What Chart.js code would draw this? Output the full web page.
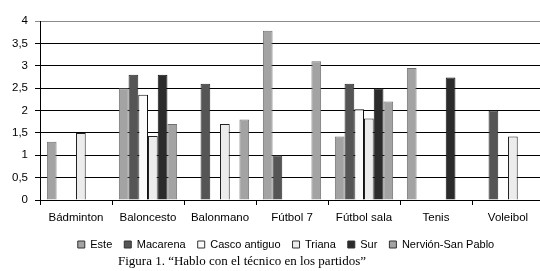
<!DOCTYPE html>
<html>
<head>
<meta charset="utf-8">
<script src="https://cdn.jsdelivr.net/npm/chart.js@4"></script>
<style>
  html, body { margin: 0; padding: 0; background: #fff; overflow: hidden; }
  #wrap { position: relative; width: 540px; height: 271px; overflow: hidden; }
  #box { position: absolute; left: 0; top: 0; width: 544px; height: 271px; }
  #caption {
    position: absolute; left: 118px; top: 253px;
    font: 13px "Liberation Serif", "Times New Roman", serif; color: #000;
    white-space: nowrap;
  }
</style>
</head>
<body>
<div id="wrap">
  <div id="box"><canvas id="chart"></canvas></div>
  <div id="caption">Figura 1. “Hablo con el técnico en los partidos”</div>
</div>
<script>
// Data
const categories = ["Bádminton", "Baloncesto", "Balonmano", "Fútbol 7", "Fútbol sala", "Tenis", "Voleibol"];
const este      = [1.3, 2.5, null, 3.78, 1.42, 2.95, null];
const macarena  = [null, 2.8, 2.6, 1.0, 2.6, null, 2.0];
const casco     = [null, 2.35, null, null, 2.03, null, null];
const triana    = [1.5, 1.43, 1.7, null, 1.82, null, 1.42];
const sur       = [null, 2.8, null, null, 2.5, 2.74, null];
const nervion   = [null, 1.7, 1.8, 3.1, 2.2, null, null];
const yTicks    = ["0", "0,5", "1", "1,5", "2", "2,5", "3", "3,5", "4"];

const font = "'Liberation Sans', Arial, sans-serif";

// legend in the source sits a bit right of the canvas centre
const legendShift = {
  id: "legendShift",
  afterLayout(chart) {
    if (chart.legend) {
      chart.legend.left += 14;
      chart.legend.right += 14;
    }
  },
};

const ctx = document.getElementById("chart").getContext("2d");
new Chart(ctx, {
  type: "bar",
  data: {
    labels: categories,
    datasets: [
      { label: "Este", data: este, backgroundColor: "#a3a3a3", borderColor: "#707070" },
      { label: "Macarena", data: macarena, backgroundColor: "#555555", borderColor: "#2a2a2a" },
      { label: "Casco antiguo", data: casco, backgroundColor: "#fbfbfb", borderColor: "#111111" },
      { label: "Triana", data: triana, backgroundColor: "#ececec", borderColor: "#222222" },
      { label: "Sur", data: sur, backgroundColor: "#2b2b2b", borderColor: "#111111" },
      { label: "Nervión-San Pablo", data: nervion, backgroundColor: "#a3a3a3", borderColor: "#707070" },
    ],
  },
  plugins: [legendShift],
  options: {
    responsive: true,
    maintainAspectRatio: false,
    animation: false,
    devicePixelRatio: 1,
    datasets: {
      bar: { borderWidth: 1, categoryPercentage: 0.81, barPercentage: 1 },
    },
    layout: { padding: { left: 0, right: 0, top: 21, bottom: 11 } },
    plugins: {
      tooltip: { enabled: false },
      legend: {
        position: "bottom",
        labels: {
          color: "#000",
          font: { family: font, size: 11 },
          boxWidth: 7,
          boxHeight: 7,
          padding: 12,
          generateLabels(chart) {
            return chart.data.datasets.map((ds, i) => ({
              text: ds.label,
              fillStyle: ds.backgroundColor,
              strokeStyle: "#333",
              lineWidth: 1,
              fontColor: "#000",
              datasetIndex: i,
            }));
          },
        },
      },
    },
    scales: {
      x: {
        grid: { display: true, drawOnChartArea: false, drawTicks: true, tickLength: 5, color: "#000", offset: true },
        border: { color: "#000" },
        ticks: { color: "#000", font: { family: font, size: 11.5 }, padding: 6, maxRotation: 0, autoSkip: false },
        afterFit(scale) { scale.height = 27; },
      },
      y: {
        min: 0,
        max: 4,
        grid: {
          color: (c) => (c.tick && c.tick.value === 4 ? "#8a8a8a" : "#000"),
          tickLength: 5,
        },
        border: { color: "#000" },
        ticks: {
          stepSize: 0.5,
          autoSkip: false,
          color: "#000",
          font: { family: font, size: 11.5 },
          padding: 7,
          callback: (v, i) => yTicks[i],
        },
        afterFit(scale) { scale.width = 40; },
      },
    },
  },
});
</script>
</body>
</html>
